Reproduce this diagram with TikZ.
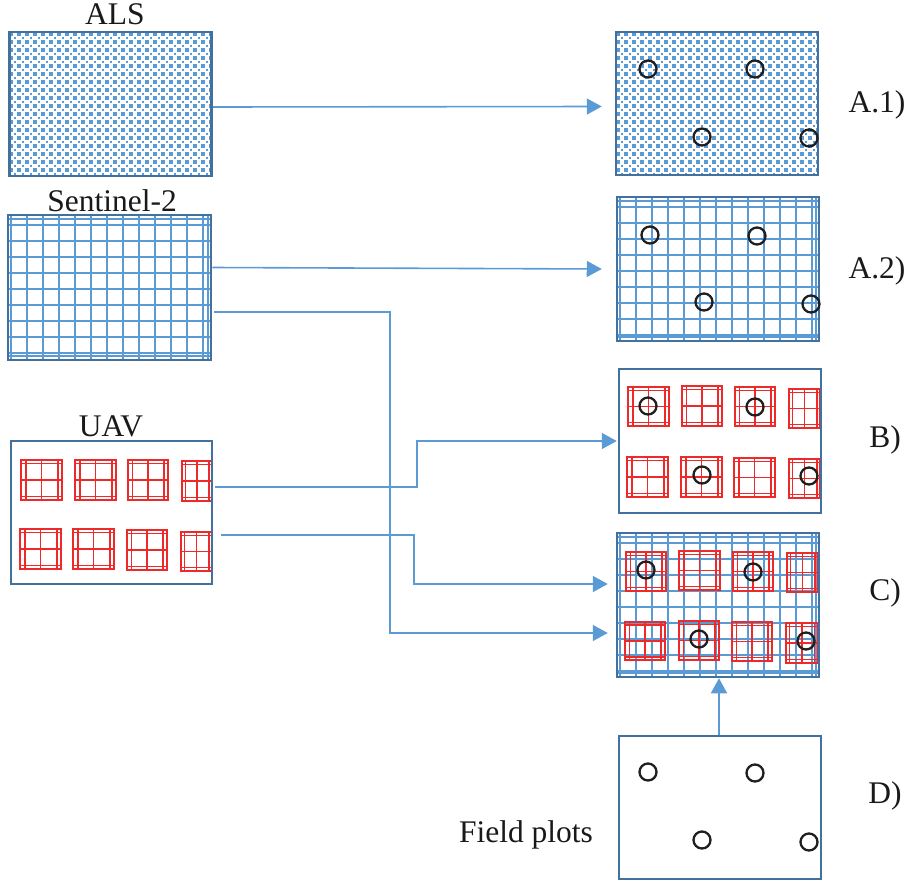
\documentclass[tikz,border=0pt]{standalone}
\usepackage{fontspec}
\setmainfont{Liberation Serif}
\usetikzlibrary{arrows.meta}
\definecolor{boxblue}{RGB}{65,113,156}
\definecolor{gridblue}{RGB}{91,155,213}
\definecolor{redsq}{RGB}{237,41,41}
\definecolor{txt}{RGB}{25,25,25}
\tikzset{
 panel/.style={draw=boxblue, line width=2.5pt, rectangle, inner sep=0pt, minimum width=202pt, minimum height=144pt},
 arr/.style={draw=gridblue, line width=1.6pt, -{Triangle[length=15pt,width=16pt,fill=gridblue]}},
 lbl/.style={font=\fontsize{31.5}{38}\selectfont, text=txt, inner sep=0pt, anchor=base},
 plotring/.style={draw=black!88, line width=2.3pt},
 gridline/.style={draw=gridblue, line width=1.3pt},
 redbox/.style={draw=redsq, line width=2.8pt},
 redline/.style={draw=redsq, line width=1.2pt},
}
\newcommand{\alsfill}[4]{%
 \begin{scope}
 \clip (#1,#2) rectangle (#3,#4);
 \foreach \i in {0,...,26}{\foreach \j in {0,...,19}{
   \fill[gridblue] ({#1+8*\i},{#2+8*\j}) rectangle ++(4.2,4.2);
   \fill[gridblue] ({#1+8*\i+4.8},{#2+8*\j+4.8}) rectangle ++(2.6,2.6);
 }}
 \end{scope}}
\newcommand{\sgrid}[4]{%
 \begin{scope}
 \clip (#1,#2) rectangle (#3,#4);
 \draw[gridline] ({#1+3},#2) -- ({#1+3},#4);
 \foreach \k in {0,...,12}{\draw[gridline] ({#1+19+16*\k},#2) -- ({#1+19+16*\k},#4);}
 \draw[gridline] ({#3-3},#2) -- ({#3-3},#4);
 \draw[gridline] (#1,{#2+4}) -- (#3,{#2+4});
 \foreach \k in {0,...,8}{\draw[gridline] (#1,{#2+10+16*\k}) -- (#3,{#2+10+16*\k});}
 \draw[gridline] (#1,{#4-4}) -- (#3,{#4-4});
 \end{scope}}
\newcommand{\rsq}[4]{%
 \pgfmathsetmacro{\wa}{#3-#1}\pgfmathsetmacro{\ha}{#4-#2}%
 \foreach \f in {0.12,0.5,0.9}{\draw[redline] ({#1+\f*\wa},#2) -- ({#1+\f*\wa},#4);}
 \foreach \f in {0.08,0.5,0.92}{\draw[redline] (#1,{#2+\f*\ha}) -- (#3,{#2+\f*\ha});}
 \draw[redbox] (#1,#2) rectangle (#3,#4);}
\newcommand{\pring}[2]{\draw[plotring] (#1,#2) circle (8.5pt);}
\begin{document}
\begin{tikzpicture}[x=1pt,y=-1pt]
\useasboundingbox (0,0) rectangle (909,883);
% fills
\alsfill{9}{32}{212}{176}
\alsfill{616}{32}{818}{175}
\sgrid{8}{215}{211}{360}
\sgrid{617}{197}{819}{341}
\sgrid{617}{533}{819}{677}
% red squares UAV
\rsq{21}{460}{62}{500}\rsq{75}{460}{116}{500}\rsq{128}{460}{168}{500}\rsq{182}{461}{212}{501}
\rsq{20}{529}{61}{569}\rsq{73}{529}{114}{569}\rsq{127}{530}{167}{570}\rsq{181}{532}{212}{571}
% red squares B
\rsq{628}{387}{669}{426}\rsq{682}{386}{722}{426}\rsq{735}{387}{775}{426}\rsq{789}{389}{820}{428}
\rsq{627}{457}{668}{497}\rsq{681}{457}{722}{497}\rsq{734}{458}{775}{497}\rsq{789}{459}{820}{498}
% red squares C
\rsq{626}{552}{666}{591}\rsq{679}{551}{720}{590}\rsq{733}{552}{773}{591}\rsq{787}{553}{818}{592}
\rsq{625}{622}{665}{660}\rsq{679}{621}{719}{660}\rsq{732}{622}{772}{661}\rsq{786}{623}{818}{663}
% panels
\node[panel] (als) at (110.5,104) {};
\node[panel, minimum width=203pt, minimum height=145pt] (s2) at (109.5,287.5) {};
\node[panel, minimum width=201pt, minimum height=143pt] (uav) at (111.5,512.5) {};
\node[panel, minimum height=143pt] (a1) at (717,103.5) {};
\node[panel] (a2) at (718,269) {};
\node[panel] (bb) at (720,441) {};
\node[panel] (cc) at (718,605) {};
\node[panel, minimum height=143pt] (dd) at (720,807.5) {};
% plot rings
\pring{648}{69}\pring{755}{69}\pring{702}{137}\pring{809}{138}
\pring{650}{235}\pring{757}{236}\pring{704}{302}\pring{811}{304}
\pring{648}{406}\pring{755}{407}\pring{702}{475}\pring{809}{476}
\pring{646}{570}\pring{753}{572}\pring{699}{639}\pring{806}{641}
\pring{648}{772}\pring{755}{773}\pring{702}{840}\pring{809}{842}
% connectors
\draw[arr] ([yshift=-3pt]als.east) -- ([yshift=-3pt,xshift=-13pt]a1.west);
\draw[arr] ([yshift=20pt]s2.east) -- ([xshift=-14pt]a2.west);
\draw[arr] ([yshift=-24.5pt,xshift=2pt]s2.east) -| ([xshift=-226pt,yshift=-28pt]cc.west) -- ([xshift=-8pt,yshift=-28pt]cc.west);
\draw[arr] ([yshift=25.5pt,xshift=2pt]uav.east) -| ([xshift=-201pt]bb.west) -- ([xshift=-1pt]bb.west);
\draw[arr] ([yshift=-22.5pt,xshift=8pt]uav.east) -| ([xshift=-202pt,yshift=21pt]cc.west) -- ([xshift=-8pt,yshift=21pt]cc.west);
\draw[arr] ([xshift=-1pt]dd.north) -- ([xshift=1pt]cc.south);
% labels
\node[lbl] (tals) at (115,25) {ALS};
\node[lbl] (ts2) at (112,211) {Sentinel-2};
\node[lbl] (tuav) at (111,436) {UAV};
\node[lbl] (ta1) at (877,112) {A.1)};
\node[lbl] (ta2) at (877,278) {A.2)};
\node[lbl] (tb) at (885,447) {B)};
\node[lbl] (tc) at (885,600) {C)};
\node[lbl] (td) at (885,803) {D)};
\node[lbl] (tfp) at (526,842) {Field plots};
\end{tikzpicture}
\end{document}
